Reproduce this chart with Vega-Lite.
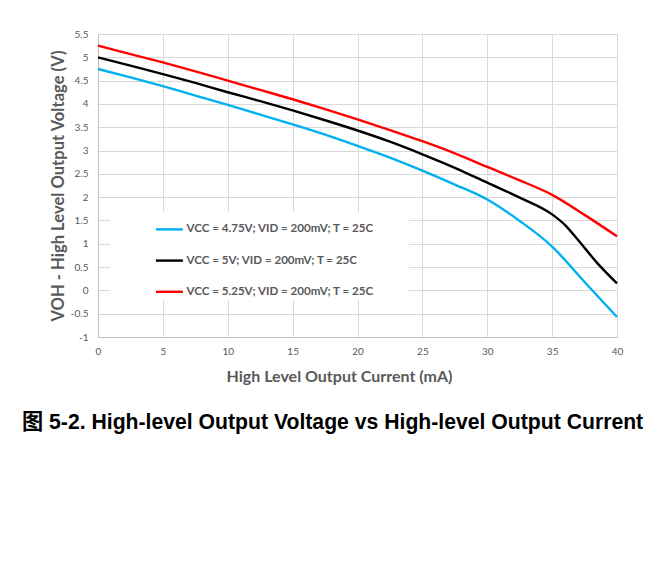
{
  "$schema": "https://vega.github.io/schema/vega-lite/v6.json",
  "autosize": "none",
  "width": 519,
  "height": 303,
  "padding": {"left": 98, "top": 34, "right": 47, "bottom": 231},
  "background": "white",
  "title": {
    "text": "图 5-2. High-level Output Voltage vs High-level Output Current",
    "orient": "bottom",
    "anchor": "start",
    "frame": "group",
    "dx": -76,
    "offset": 28,
    "font": "Liberation Sans, Noto Sans CJK SC",
    "fontSize": 21.2,
    "fontWeight": "bold",
    "color": "#000000"
  },
  "data": {
    "values": [
      {"s": "VCC = 4.75V; VID = 200mV; T = 25C", "i": 0, "v": 4.75},
      {"s": "VCC = 4.75V; VID = 200mV; T = 25C", "i": 2.5, "v": 4.57},
      {"s": "VCC = 4.75V; VID = 200mV; T = 25C", "i": 5, "v": 4.38},
      {"s": "VCC = 4.75V; VID = 200mV; T = 25C", "i": 7.5, "v": 4.18},
      {"s": "VCC = 4.75V; VID = 200mV; T = 25C", "i": 10, "v": 3.98},
      {"s": "VCC = 4.75V; VID = 200mV; T = 25C", "i": 12.5, "v": 3.77},
      {"s": "VCC = 4.75V; VID = 200mV; T = 25C", "i": 15, "v": 3.56},
      {"s": "VCC = 4.75V; VID = 200mV; T = 25C", "i": 17.5, "v": 3.34},
      {"s": "VCC = 4.75V; VID = 200mV; T = 25C", "i": 20, "v": 3.10},
      {"s": "VCC = 4.75V; VID = 200mV; T = 25C", "i": 22.5, "v": 2.85},
      {"s": "VCC = 4.75V; VID = 200mV; T = 25C", "i": 25, "v": 2.57},
      {"s": "VCC = 4.75V; VID = 200mV; T = 25C", "i": 27.5, "v": 2.27},
      {"s": "VCC = 4.75V; VID = 200mV; T = 25C", "i": 30, "v": 1.95},
      {"s": "VCC = 4.75V; VID = 200mV; T = 25C", "i": 32.5, "v": 1.49},
      {"s": "VCC = 4.75V; VID = 200mV; T = 25C", "i": 35, "v": 0.94},
      {"s": "VCC = 4.75V; VID = 200mV; T = 25C", "i": 37.5, "v": 0.18},
      {"s": "VCC = 4.75V; VID = 200mV; T = 25C", "i": 40, "v": -0.57},
      {"s": "VCC = 5V; VID = 200mV; T = 25C", "i": 0, "v": 5.0},
      {"s": "VCC = 5V; VID = 200mV; T = 25C", "i": 2.5, "v": 4.82},
      {"s": "VCC = 5V; VID = 200mV; T = 25C", "i": 5, "v": 4.64},
      {"s": "VCC = 5V; VID = 200mV; T = 25C", "i": 7.5, "v": 4.45},
      {"s": "VCC = 5V; VID = 200mV; T = 25C", "i": 10, "v": 4.25},
      {"s": "VCC = 5V; VID = 200mV; T = 25C", "i": 12.5, "v": 4.06},
      {"s": "VCC = 5V; VID = 200mV; T = 25C", "i": 15, "v": 3.86},
      {"s": "VCC = 5V; VID = 200mV; T = 25C", "i": 17.5, "v": 3.65},
      {"s": "VCC = 5V; VID = 200mV; T = 25C", "i": 20, "v": 3.43},
      {"s": "VCC = 5V; VID = 200mV; T = 25C", "i": 22.5, "v": 3.19},
      {"s": "VCC = 5V; VID = 200mV; T = 25C", "i": 25, "v": 2.92},
      {"s": "VCC = 5V; VID = 200mV; T = 25C", "i": 27.5, "v": 2.63},
      {"s": "VCC = 5V; VID = 200mV; T = 25C", "i": 30, "v": 2.31},
      {"s": "VCC = 5V; VID = 200mV; T = 25C", "i": 32.5, "v": 1.99},
      {"s": "VCC = 5V; VID = 200mV; T = 25C", "i": 35, "v": 1.63},
      {"s": "VCC = 5V; VID = 200mV; T = 25C", "i": 36, "v": 1.40},
      {"s": "VCC = 5V; VID = 200mV; T = 25C", "i": 37, "v": 1.08},
      {"s": "VCC = 5V; VID = 200mV; T = 25C", "i": 38.5, "v": 0.58},
      {"s": "VCC = 5V; VID = 200mV; T = 25C", "i": 40, "v": 0.15},
      {"s": "VCC = 5.25V; VID = 200mV; T = 25C", "i": 0, "v": 5.25},
      {"s": "VCC = 5.25V; VID = 200mV; T = 25C", "i": 2.5, "v": 5.07},
      {"s": "VCC = 5.25V; VID = 200mV; T = 25C", "i": 5, "v": 4.89},
      {"s": "VCC = 5.25V; VID = 200mV; T = 25C", "i": 7.5, "v": 4.70},
      {"s": "VCC = 5.25V; VID = 200mV; T = 25C", "i": 10, "v": 4.50},
      {"s": "VCC = 5.25V; VID = 200mV; T = 25C", "i": 12.5, "v": 4.30},
      {"s": "VCC = 5.25V; VID = 200mV; T = 25C", "i": 15, "v": 4.10},
      {"s": "VCC = 5.25V; VID = 200mV; T = 25C", "i": 17.5, "v": 3.89},
      {"s": "VCC = 5.25V; VID = 200mV; T = 25C", "i": 20, "v": 3.67},
      {"s": "VCC = 5.25V; VID = 200mV; T = 25C", "i": 22.5, "v": 3.44},
      {"s": "VCC = 5.25V; VID = 200mV; T = 25C", "i": 25, "v": 3.20},
      {"s": "VCC = 5.25V; VID = 200mV; T = 25C", "i": 27.5, "v": 2.94},
      {"s": "VCC = 5.25V; VID = 200mV; T = 25C", "i": 30, "v": 2.65},
      {"s": "VCC = 5.25V; VID = 200mV; T = 25C", "i": 32.5, "v": 2.36},
      {"s": "VCC = 5.25V; VID = 200mV; T = 25C", "i": 35, "v": 2.05},
      {"s": "VCC = 5.25V; VID = 200mV; T = 25C", "i": 37.5, "v": 1.62},
      {"s": "VCC = 5.25V; VID = 200mV; T = 25C", "i": 40, "v": 1.16}
    ]
  },
  "mark": {"type": "line", "strokeWidth": 2.4, "interpolate": "monotone"},
  "encoding": {
    "x": {
      "field": "i",
      "type": "quantitative",
      "scale": {"domain": [0, 40], "nice": false},
      "axis": {
        "title": "High Level Output Current (mA)",
        "values": [0, 5, 10, 15, 20, 25, 30, 35, 40],
        "ticks": false,
        "labelPadding": 9,
        "titlePadding": 12,
        "titleX": 241,
        "labelFlush": false
      }
    },
    "y": {
      "field": "v",
      "type": "quantitative",
      "scale": {"domain": [-1, 5.5], "nice": false, "zero": false},
      "axis": {
        "title": "VOH - High Level Output Voltage (V)",
        "values": [-1, -0.5, 0, 0.5, 1, 1.5, 2, 2.5, 3, 3.5, 4, 4.5, 5, 5.5],
        "labelExpr": "'' + datum.value",
        "ticks": false,
        "labelPadding": 10,
        "titlePadding": 4,
        "titleFontSize": 16.6,
        "labelFlush": false
      }
    },
    "color": {
      "field": "s",
      "type": "nominal",
      "sort": ["VCC = 4.75V; VID = 200mV; T = 25C", "VCC = 5V; VID = 200mV; T = 25C", "VCC = 5.25V; VID = 200mV; T = 25C"],
      "scale": {
        "domain": ["VCC = 4.75V; VID = 200mV; T = 25C", "VCC = 5V; VID = 200mV; T = 25C", "VCC = 5.25V; VID = 200mV; T = 25C"],
        "range": ["#00b0f0", "#000000", "#ff0000"]
      },
      "legend": {
        "orient": "none",
        "legendX": 12,
        "legendY": 178,
        "title": " ",
        "titleOrient": "right",
        "titlePadding": 32,
        "padding": 2.4,
        "fillColor": "white",
        "symbolType": "stroke",
        "symbolSize": 729,
        "symbolStrokeWidth": 2.4,
        "symbolOffset": 42,
        "labelOffset": 2,
        "rowPadding": 10.2,
        "labelFont": "Lato",
        "labelFontSize": 11.6,
        "labelFontWeight": "bold",
        "labelColor": "#595959",
        "labelLimit": 400
      }
    }
  },
  "config": {
    "view": {"stroke": null},
    "axis": {
      "grid": true,
      "gridColor": "#d9d9d9",
      "gridWidth": 1,
      "domainColor": "#bfbfbf",
      "domainWidth": 1,
      "labelFont": "Lato",
      "labelFontSize": 10,
      "labelColor": "#595959",
      "titleFont": "Lato",
      "titleFontSize": 16,
      "titleFontWeight": "bold",
      "titleColor": "#595959"
    }
  }
}
